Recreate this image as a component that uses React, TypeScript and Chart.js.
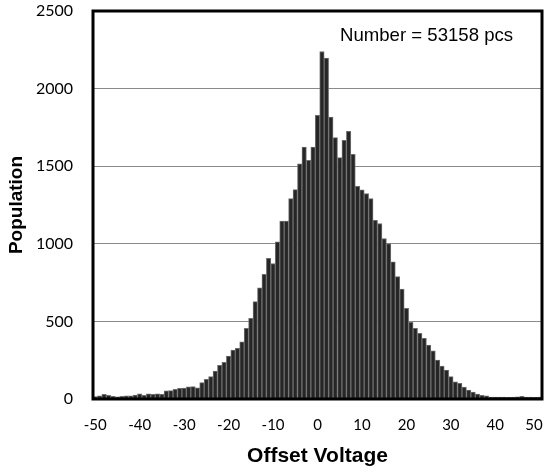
import React, { useEffect, useRef } from "react";
import { Chart, registerables } from "chart.js";

Chart.register(...registerables);

const categories = [
  -50, -49, -48, -47, -46, -45, -44, -43, -42, -41,
  -40, -39, -38, -37, -36, -35, -34, -33, -32, -31,
  -30, -29, -28, -27, -26, -25, -24, -23, -22, -21,
  -20, -19, -18, -17, -16, -15, -14, -13, -12, -11,
  -10, -9, -8, -7, -6, -5, -4, -3, -2, -1,
  0, 1, 2, 3, 4, 5, 6, 7, 8, 9,
  10, 11, 12, 13, 14, 15, 16, 17, 18, 19,
  20, 21, 22, 23, 24, 25, 26, 27, 28, 29,
  30, 31, 32, 33, 34, 35, 36, 37, 38, 39,
  40, 41, 42, 43, 44, 45, 46, 47, 48, 49,
  50,
];

const population = [
  15, 20, 30, 24, 18, 14, 18, 21, 21, 26,
  34, 24, 34, 30, 34, 30, 52, 54, 62, 68,
  70, 79, 80, 72, 105, 127, 144, 180, 217, 236,
  277, 315, 326, 369, 455, 519, 627, 717, 803, 906,
  873, 1013, 1146, 1146, 1291, 1349, 1516, 1623, 1538, 1623,
  1828, 2239, 2196, 1817, 1684, 1555, 1667, 1725, 1577, 1370,
  1348, 1324, 1291, 1152, 1131, 1034, 1002, 884, 788, 708,
  584, 494, 455, 423, 391, 347, 311, 251, 212, 187,
  144, 111, 101, 77, 58, 44, 32, 24, 20, 13,
  12, 12, 13, 11, 12, 14, 18, 13, 12, 11,
  12,
];

const yTicks = [0, 500, 1000, 1500, 2000, 2500];
const xTickLabels = [-50, -40, -30, -20, -10, 0, 10, 20, 30, 40, 50];
const xTitle = "Offset Voltage";
const yTitle = "Population";
const annotation = "Number = 53158 pcs";

export default function App() {
  const canvasRef = useRef<HTMLCanvasElement | null>(null);

  useEffect(() => {
    document.body.style.margin = "0";
    const canvas = canvasRef.current;
    if (!canvas) return;

    const framePlugin = {
      id: "frameAndNote",
      afterDraw(chart: any) {
        const { ctx, chartArea } = chart;
        const { left, top, right, bottom } = chartArea;
        ctx.save();
        ctx.strokeStyle = "#000";
        ctx.lineWidth = 3;
        ctx.strokeRect(left, top, right - left, bottom - top);
        ctx.font = '18.6px "Liberation Sans", Arial, sans-serif';
        ctx.fillStyle = "#000";
        ctx.textBaseline = "alphabetic";
        ctx.textAlign = "left";
        ctx.fillText(annotation, left + 247, top + 30);
        ctx.restore();
      },
    };

    const lastLabel = xTickLabels[xTickLabels.length - 1];

    const chart = new Chart(canvas, {
      type: "bar",
      data: {
        labels: categories.map(String),
        datasets: [
          {
            data: population,
            backgroundColor: "#262626",
            borderColor: "#6e6e6e",
            borderWidth: 1,
            barPercentage: 1,
            categoryPercentage: 1,
          },
        ],
      },
      options: {
        responsive: false,
        animation: false,
        devicePixelRatio: 1,
        layout: { padding: { top: 11, right: 5, left: 0, bottom: 0 } },
        plugins: {
          legend: { display: false },
          tooltip: { enabled: false },
        },
        scales: {
          x: {
            type: "category",
            grid: { display: false, drawTicks: false },
            border: { display: false },
            ticks: {
              autoSkip: false,
              maxRotation: 0,
              minRotation: 0,
              padding: 17,
              color: "#000",
              font: { family: "Lato, sans-serif", size: 15, lineHeight: 1.2 },
              callback: (_v: any, idx: number) => {
                const c = categories[idx];
                if (!xTickLabels.includes(c)) return "";
                return c === lastLabel ? String(c) + "   " : String(c);
              },
            },
            title: {
              display: true,
              text: xTitle,
              color: "#000",
              font: { family: '"Liberation Sans", Arial, sans-serif', size: 21, weight: "bold", lineHeight: 1.2 },
              padding: { top: 0, bottom: 3 },
            },
            afterFit: (s: any) => {
              s.height = 73;
              s.paddingLeft = 0;
              s.paddingRight = 0;
            },
          },
          y: {
            min: 0,
            max: 2500,
            grid: { color: "#8a8a8a", lineWidth: 1, drawTicks: false },
            border: { display: false },
            afterBuildTicks: (s: any) => {
              s.ticks = yTicks.map((v) => ({ value: v }));
            },
            ticks: {
              padding: 20,
              color: "#000",
              font: { family: "Lato, sans-serif", size: 16, lineHeight: 1.2 },
              callback: (v: any) => String(v),
            },
            title: {
              display: true,
              text: yTitle,
              color: "#000",
              font: { family: '"Liberation Sans", Arial, sans-serif', size: 19, weight: "bold", lineHeight: 1.2 },
              padding: { top: 5, bottom: 0 },
            },
            afterFit: (s: any) => {
              s.width = 93;
              s.paddingTop = 0;
              s.paddingBottom = 0;
            },
          },
        },
      },
      plugins: [framePlugin],
    });

    return () => chart.destroy();
  }, []);

  return (
    <div style={{ width: 547, height: 472 }}>
      <canvas ref={canvasRef} width={547} height={472} />
    </div>
  );
}
